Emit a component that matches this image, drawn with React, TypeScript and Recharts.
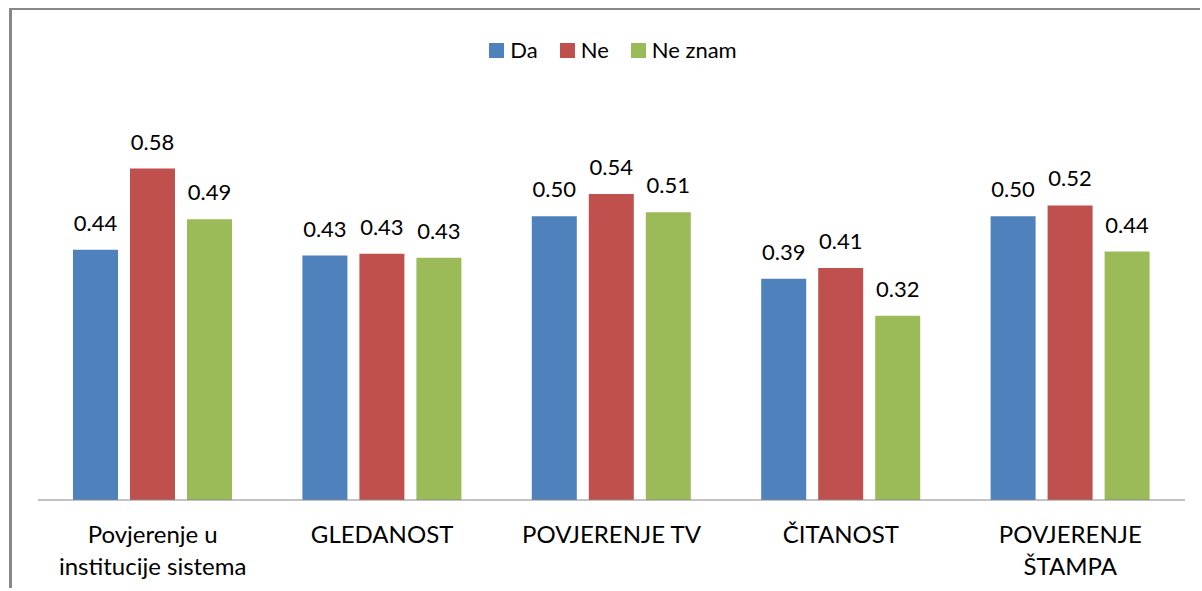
import { Bar, BarChart, LabelList, XAxis, YAxis } from "recharts"

const categories = [
  "Povjerenje u\ninstitucije sistema",
  "GLEDANOST",
  "POVJERENJE TV",
  "ČITANOST",
  "POVJERENJE\nŠTAMPA",
]
const da = [0.44, 0.43, 0.499, 0.389, 0.499]
const ne = [0.583, 0.433, 0.538, 0.408, 0.518]
const neZnam = [0.494, 0.426, 0.506, 0.324, 0.437]

const series = [
  { key: "da", name: "Da", color: "#4F81BD" },
  { key: "ne", name: "Ne", color: "#C0504D" },
  { key: "neZnam", name: "Ne znam", color: "#9BBB59" },
]

const data = categories.map((name, i) => ({ name, da: da[i], ne: ne[i], neZnam: neZnam[i] }))

const font = "Lato, Calibri, sans-serif"

function CategoryTick(props: any) {
  const { x, y, payload } = props
  const lines = String(payload.value).split("\n")
  return (
    <g>
      {lines.map((line: string, i: number) => (
        <text key={i} x={x} y={y + 43 + i * 32} textAnchor="middle" fill="#000" fontSize={24} fontFamily={font}>
          {line}
        </text>
      ))}
    </g>
  )
}

const fmt = (v: any) => Number(v).toFixed(2)

export default function App() {
  return (
    <div
      style={{
        position: "absolute",
        left: 9,
        top: 8,
        width: 1188,
        height: 578,
        borderLeft: "3px solid #888888",
        borderTop: "2px solid #888888",
        background: "#fff",
      }}
    >
      <div
        style={{
          position: "absolute",
          top: 26,
          left: 0,
          width: 1188,
          display: "flex",
          justifyContent: "center",
          fontFamily: font,
          fontSize: 22,
          color: "#000",
          lineHeight: "28px",
        }}
      >
        <div style={{ display: "flex", marginLeft: 14 }}>
          {series.map((s) => (
            <div key={s.key} style={{ display: "flex", alignItems: "center", margin: "0 11px" }}>
              <span style={{ width: 15, height: 15, background: s.color, display: "inline-block", marginRight: 6 }} />
              <span>{s.name}</span>
            </div>
          ))}
        </div>
      </div>
      <BarChart
        width={1188}
        height={578}
        data={data}
        margin={{ top: 92, right: 15, bottom: 0, left: 26 }}
        barSize={45}
        barGap={12}
      >
        <XAxis
          dataKey="name"
          height={88}
          tickLine={false}
          tickSize={0}
          tickMargin={0}
          interval={0}
          axisLine={{ stroke: "#868686", strokeWidth: 1 }}
          tick={<CategoryTick />}
        />
        <YAxis hide domain={[0, 0.7]} />
        {series.map((s) => (
          <Bar key={s.key} dataKey={s.key} name={s.name} fill={s.color} isAnimationActive={false}>
            <LabelList dataKey={s.key} position="top" offset={19} formatter={fmt} fill="#000" fontSize={22} fontFamily={font} />
          </Bar>
        ))}
      </BarChart>
    </div>
  )
}
